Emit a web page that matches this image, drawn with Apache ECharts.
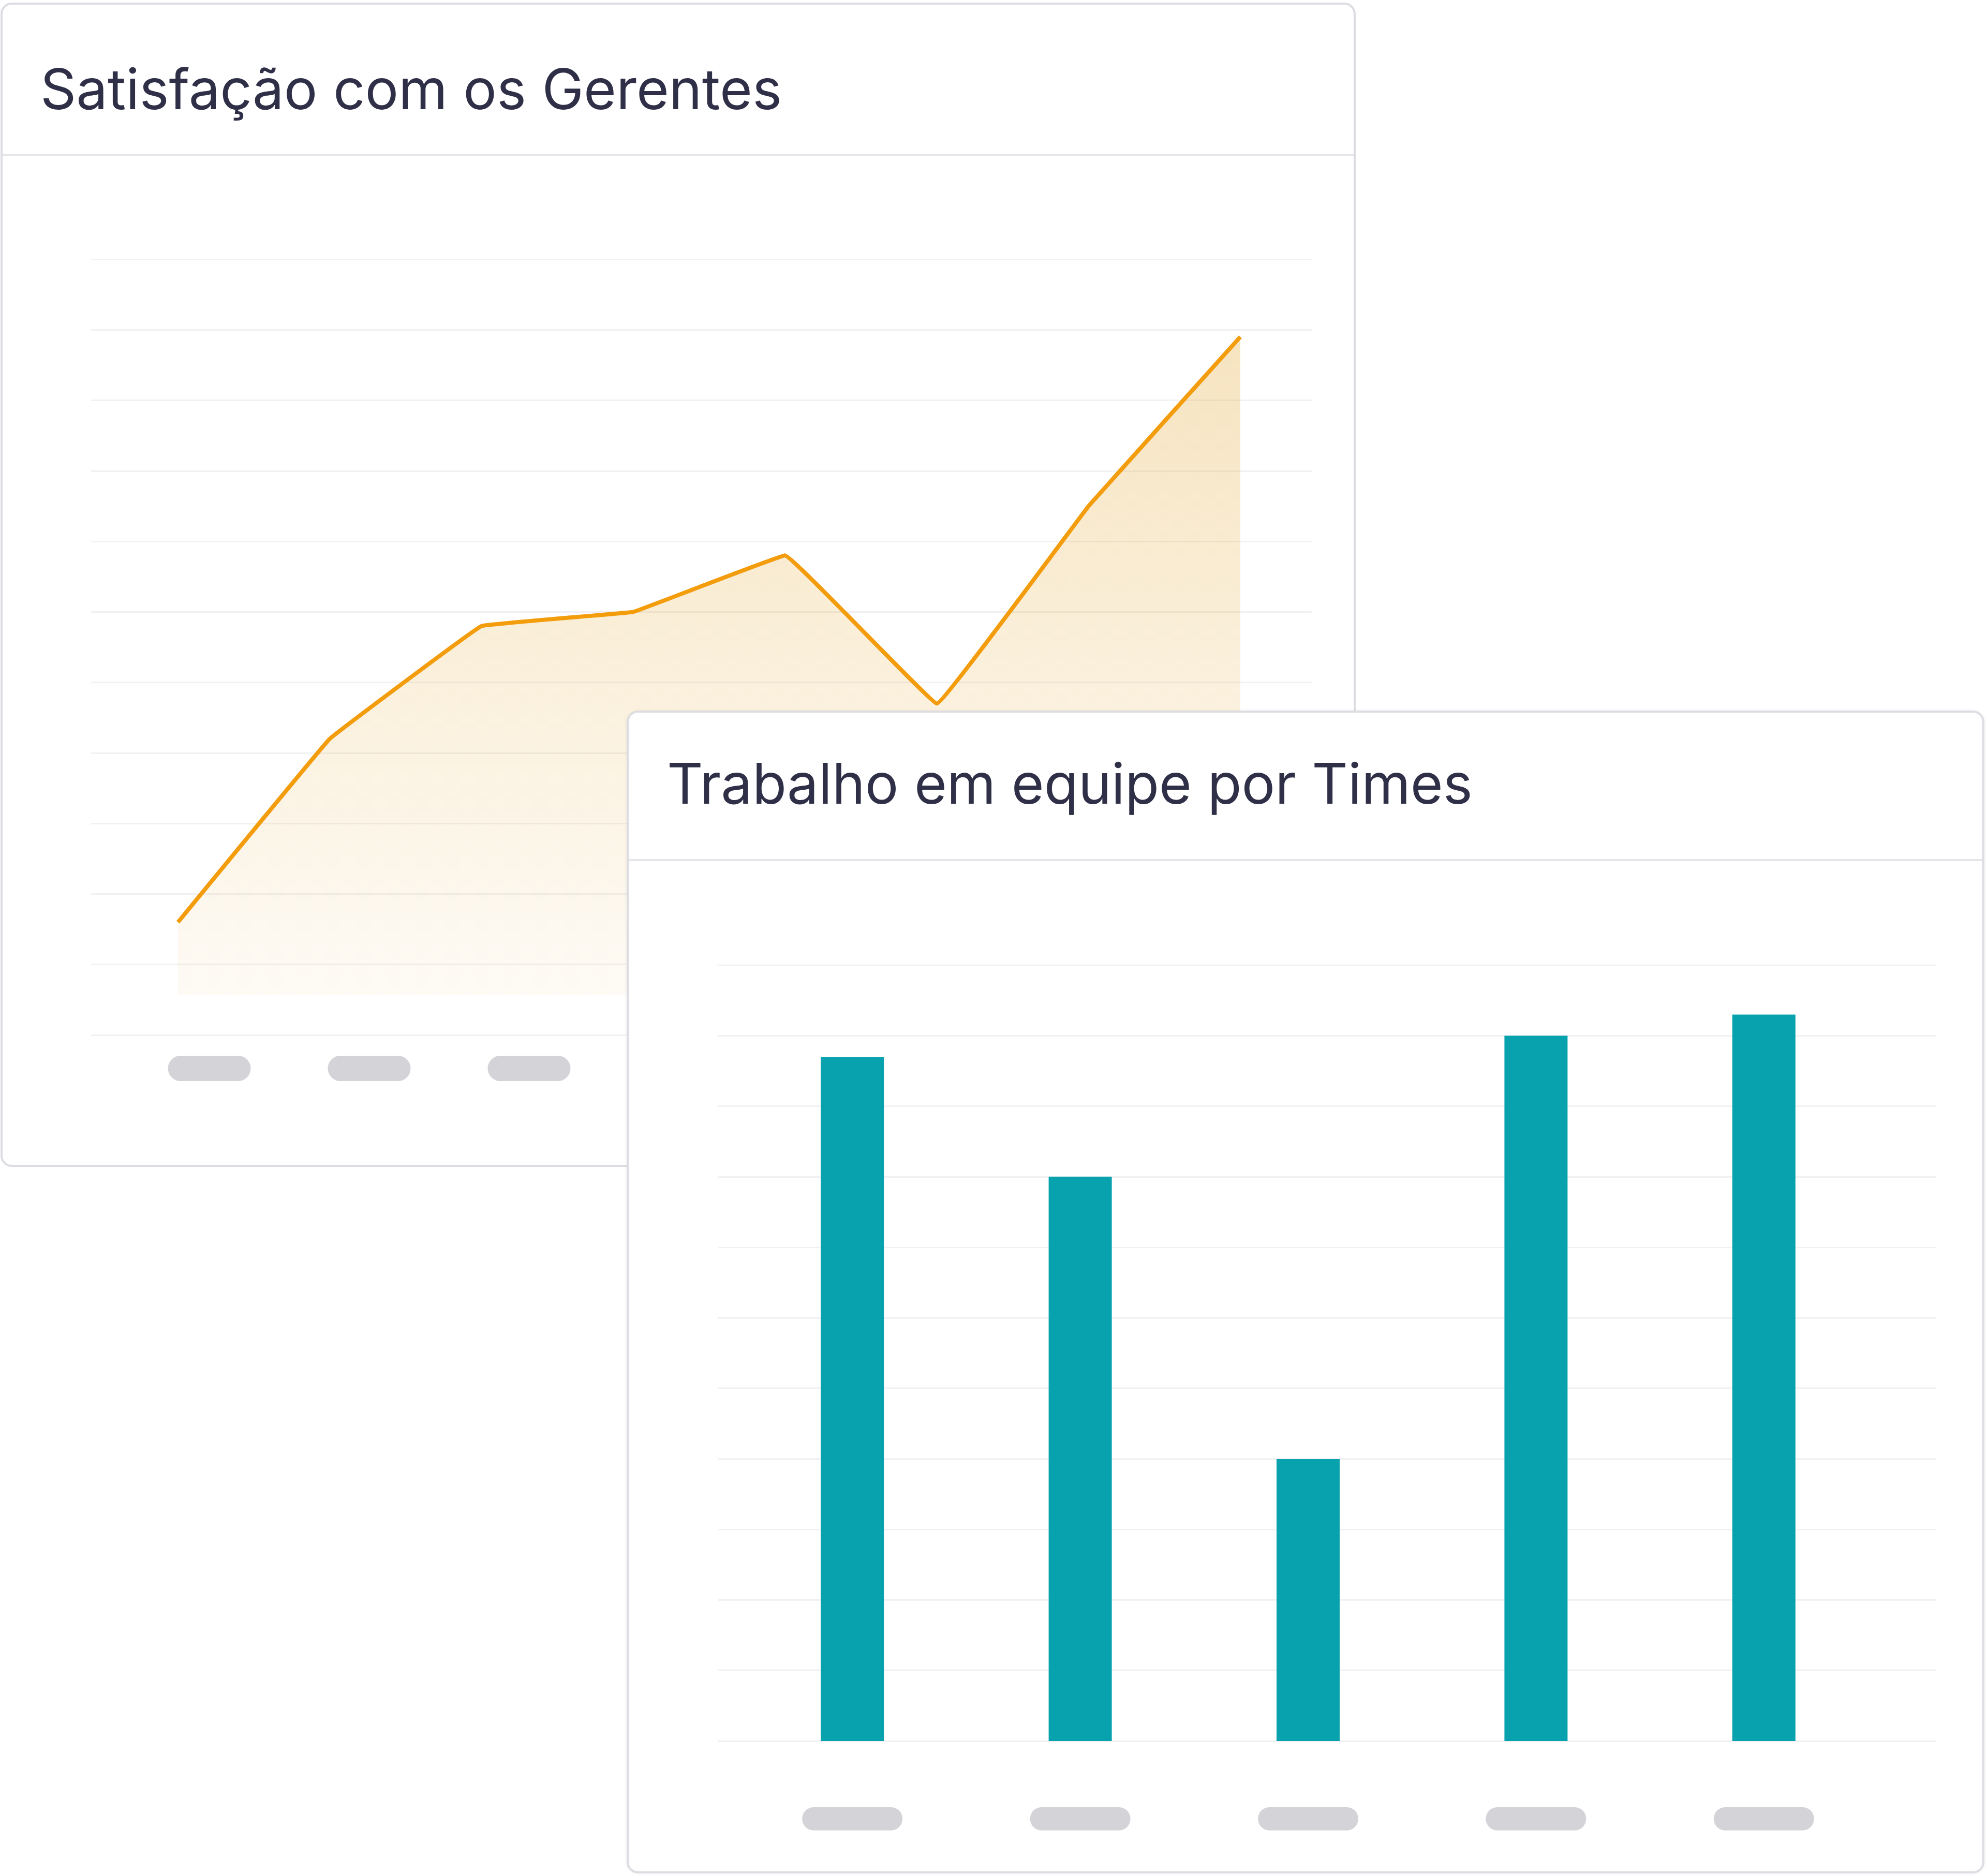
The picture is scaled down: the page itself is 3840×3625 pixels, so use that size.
<!DOCTYPE html>
<html>
<head>
<meta charset="utf-8">
<title>Satisfação e Trabalho em equipe</title>
<script src="https://cdn.jsdelivr.net/npm/echarts@6.0.0/dist/echarts.min.js"></script>
<style>
  html, body { margin: 0; padding: 0; background: #ffffff; }
  .painel { width: 3840px; height: 3625px; }
</style>
</head>
<body>
<div class="painel"></div>
<script>
// dados do grafico de linha (card 1)
var meses = ['Jan', 'Fev', 'Mar', 'Abr', 'Mai', 'Jun', 'Jul', 'Ago'];
var satisfacao = [16, 42, 58, 60, 68, 47, 75, 99];
// rotulos do eixo x do card 1 (aparecem como marcadores cinza)
var rotulosLinha = ['Jan', 'Fev', 'Mar', 'Abr', 'Mai', 'Jun', 'Jul'];

// dados do grafico de barras (card 2)
var times = ['Time A', 'Time B', 'Time C', 'Time D', 'Time E'];
var trabalhoEquipe = [97, 80, 40, 100, 103];

// escala do eixo y (comum aos dois)
var yMin = 0;
var yMax = 110;
var yPasso = 10;

var corTitulo = '#2f3048';
var corGrade = '#f1f1f4';
var corPill = '#d3d3d8';
var fonte = 'Inter, "Noto Sans", sans-serif';

//eixo y escondido, so com as linhas de grade (ou sem nada)
function eixoY(gridIndex, comGrade, z) {
  return {
    type: 'value',
    gridIndex: gridIndex,
    min: yMin,
    max: yMax,
    interval: yPasso,
    z: z,
    axisLine: { show: false },
    axisTick: { show: false },
    axisLabel: { show: false },
    splitLine: { show: comGrade, lineStyle: { color: corGrade, width: 3 } }
  };
}

//eixo x com os rotulos desenhados como "pilulas"
function eixoPill(gridIndex, dados, margem, largura, altura, z) {
  return {
    type: 'category',
    gridIndex: gridIndex,
    data: dados,
    boundaryGap: true,
    z: z,
    axisLine: { show: false },
    axisTick: { show: false },
    splitLine: { show: false },
    axisLabel: {
      interval: 0,
      margin: margem,
      formatter: function () { return '{p| }'; },
      rich: {
        p: {
          width: largura,
          height: altura,
          backgroundColor: corPill,
          borderRadius: altura / 2,
          color: 'transparent'
        }
      }
    }
  };
}

var grafico = echarts.init(document.querySelector('.painel'), null, { renderer: 'canvas' });

var option = {
  animation: false,
  backgroundColor: '#ffffff',
  //cards, titulos e divisorias
  graphic: [
    {
      type: 'rect', z: 0,
      shape: { x: 3, y: 7, width: 2615, height: 2246, r: 20 },
      style: { fill: '#ffffff', stroke: '#dcdce2', lineWidth: 4 }
    },
    {
      type: 'line', z: 1,
      shape: { x1: 5, y1: 299, x2: 2616, y2: 299 },
      style: { stroke: '#e6e6ea', lineWidth: 4 }
    },
    {
      type: 'text', z: 1, x: 78, y: 179,
      style: { text: 'Satisfação com os Gerentes', fill: corTitulo, font: '108px ' + fonte, verticalAlign: 'middle' }
    },
    {
      type: 'rect', z: 10,
      shape: { x: 1213, y: 1375, width: 2620, height: 2243, r: 20 },
      style: { fill: '#ffffff', stroke: '#dcdce2', lineWidth: 4, shadowBlur: 8, shadowColor: 'rgba(0,0,0,0.04)' }
    },
    {
      type: 'line', z: 11,
      shape: { x1: 1215, y1: 1662, x2: 3831, y2: 1662 },
      style: { stroke: '#e6e6ea', lineWidth: 4 }
    },
    {
      type: 'text', z: 11, x: 1289, y: 1521,
      style: { text: 'Trabalho em equipe por Times', fill: corTitulo, font: '108px ' + fonte, verticalAlign: 'middle' }
    }
  ],
  grid: [
    //card 1: grade, linha, pilulas
    { left: 176, top: 501, width: 2359, height: 1499 },
    { left: 344, top: 501, width: 2053, height: 1499 },
    { left: 250, top: 501, width: 2163, height: 1499 },
    //card 2: grade, barras
    { left: 1387, top: 1865, width: 2354, height: 1499 },
    { left: 1427, top: 1865, width: 2202, height: 1499 }
  ],
  xAxis: [
    { type: 'category', gridIndex: 0, data: meses, show: false },
    { type: 'category', gridIndex: 1, data: meses, boundaryGap: false, show: false },
    eixoPill(2, rotulosLinha, 40, 160, 49, 1),
    { type: 'category', gridIndex: 3, data: times, show: false },
    eixoPill(4, times, 128, 194, 45, 11)
  ],
  yAxis: [
    eixoY(0, true, 1),
    eixoY(1, false, 1),
    eixoY(2, false, 1),
    eixoY(3, true, 11),
    eixoY(4, false, 11)
  ],
  series: [
    {
      name: 'Satisfação',
      type: 'line',
      xAxisIndex: 1,
      yAxisIndex: 1,
      data: satisfacao,
      z: 2,
      smooth: 0.04,
      symbol: 'none',
      lineStyle: { color: '#f39c0c', width: 8 },
      areaStyle: {
        origin: 5.7,
        color: new echarts.graphic.LinearGradient(0, 0, 0, 1, [
          { offset: 0, color: 'rgba(222,150,10,0.37)' },
          { offset: 0.5, color: 'rgba(222,150,10,0.21)' },
          { offset: 1, color: 'rgba(222,150,10,0.06)' }
        ])
      }
    },
    {
      name: 'Trabalho em equipe',
      type: 'bar',
      xAxisIndex: 4,
      yAxisIndex: 4,
      data: trabalhoEquipe,
      z: 12,
      barWidth: 122,
      itemStyle: { color: '#08a2ae' }
    }
  ]
};

grafico.setOption(option);
</script>
</body>
</html>
